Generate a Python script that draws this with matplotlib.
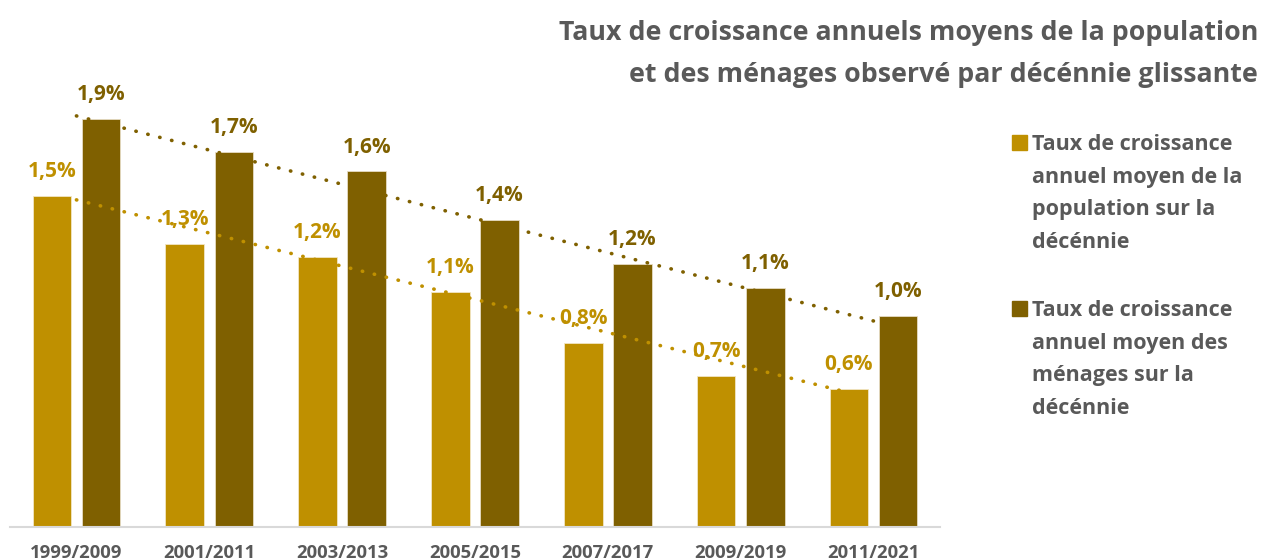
import matplotlib
matplotlib.use("Agg")
import matplotlib.pyplot as plt
import numpy as np
from matplotlib.patches import Rectangle

# Taux annuels moyens (%) par décennie glissante
periodes = ["1999/2009", "2001/2011", "2003/2013", "2005/2015",
            "2007/2017", "2009/2019", "2011/2021"]
population = [1.51, 1.29, 1.23, 1.07, 0.84, 0.69, 0.63]
menages = [1.86, 1.71, 1.62, 1.40, 1.20, 1.09, 0.96]

legende_pop = "Taux de croissance\nannuel moyen de la\npopulation sur la\ndécénnie"
legende_men = "Taux de croissance\nannuel moyen des\nménages sur la\ndécénnie"
titre = "Taux de croissance annuels moyens de la population\net des ménages observé par décénnie glissante"

c_pop = "#BF9000"
c_men = "#7F6000"
gris = "#595959"

plt.rcParams["font.family"] = ["Open Sans", "DejaVu Sans"]
plt.rcParams["font.weight"] = "bold"

W, H = 1261, 560
fig = plt.figure(figsize=(W / 100, H / 100), dpi=100)
ax = fig.add_axes([10 / W, 33 / H, 930 / W, 439 / H])

x = np.arange(len(periodes))
larg = 0.29
dx = 0.185

b1 = ax.bar(x - dx, population, larg, color=c_pop, edgecolor="#f2e6c4", linewidth=0.6, zorder=2)
b2 = ax.bar(x + dx, menages, larg, color=c_men, edgecolor="#e6dcc4", linewidth=0.6, zorder=2)

# tendances linéaires
for vals, col in [(population, c_pop), (menages, c_men)]:
    a, b = np.polyfit(x, vals, 1)
    ax.plot(x, a * x + b, color=col, lw=2.6, ls=(0, (0.1, 3.3)),
            dash_capstyle="round", zorder=3)

def fmt(v):
    return f"{v:.1f}%".replace(".", ",")

for bars, vals, col in [(b1, population, c_pop), (b2, menages, c_men)]:
    for r, v in zip(bars, vals):
        ax.annotate(fmt(v), (r.get_x() + r.get_width() / 2, v),
                    xytext=(0, 17.5), textcoords="offset points",
                    ha="center", va="center", color=col,
                    fontsize=15, fontweight="bold", zorder=4)

ax.set_xlim(-0.5, 6.5)
ax.set_ylim(0, 2.0)
ax.set_yticks([])
ax.set_xticks(x)
ax.set_xticklabels(periodes, fontsize=13.3, color=gris, fontweight="bold")
ax.tick_params(axis="x", length=0, pad=12)
for s in ["top", "right", "left"]:
    ax.spines[s].set_visible(False)
ax.spines["bottom"].set_color("#d9d9d9")
ax.spines["bottom"].set_linewidth(1.5)

fig.text(1258 / W, 1 - 20 / H, titre, ha="right", va="top", fontsize=19.3,
         color=gris, fontweight="bold", linespacing=1.8)

# légende
for y0, txt, col in [(142, legende_pop, c_pop), (308, legende_men, c_men)]:
    fig.add_artist(Rectangle((1012 / W, 1 - (y0 + 8) / H), 15 / W, 15 / H,
                             transform=fig.transFigure, color=col))
    fig.text(1032 / W, 1 - (y0 - 8) / H, txt, ha="left", va="top",
             fontsize=15.5, color=gris, fontweight="bold", linespacing=1.72)

fig.savefig("out.png", dpi=100)
